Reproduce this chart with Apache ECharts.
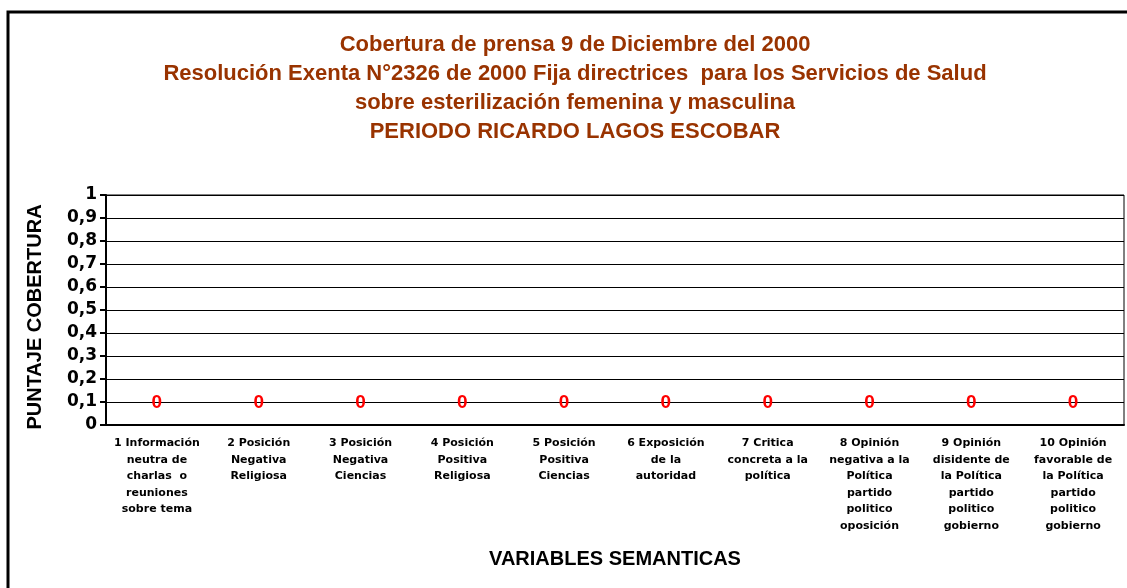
<!DOCTYPE html>
<html>
<head>
<meta charset="utf-8">
<script src="https://cdn.jsdelivr.net/npm/echarts@6/dist/echarts.min.js"></script>
<style>
  html, body {margin: 0; padding: 0; background: #fff;}
  #chart {width: 1127px; height: 588px;}
</style>
</head>
<body>
<div id="chart"></div>
<script>
// categorias del eje X
const categorias = [
    '1 Información\nneutra de\ncharlas  o\nreuniones\nsobre tema',
    '2 Posición\nNegativa\nReligiosa',
    '3 Posición\nNegativa\nCiencias',
    '4 Posición\nPositiva\nReligiosa',
    '5 Posición\nPositiva\nCiencias',
    '6 Exposición\nde la\nautoridad',
    '7 Critica\nconcreta a la\npolítica',
    '8 Opinión\nnegativa a la\nPolítica\npartido\npolitico\noposición',
    '9 Opinión\ndisidente de\nla Política\npartido\npolitico\ngobierno',
    '10 Opinión\nfavorable de\nla Política\npartido\npolitico\ngobierno'
]
// puntaje por variable
const puntaje = [0, 0, 0, 0, 0, 0, 0, 0, 0, 0]
const yMin = 0, yMax = 1, yPaso = 0.1

const titulo = 'Cobertura de prensa 9 de Diciembre del 2000\n' +
    'Resolución Exenta N°2326 de 2000 Fija directrices  para los Servicios de Salud\n' +
    'sobre esterilización femenina y masculina\n' +
    'PERIODO RICARDO LAGOS ESCOBAR'

const fuente = '"Liberation Sans", Arial, sans-serif'
const fuenteAncha = '"DejaVu Sans", sans-serif'

const option = {
    animation: false,
    textStyle: {fontFamily: fuente},
    graphic: [
        {
            type: 'rect',
            shape: {x: 8, y: 12, width: 1300, height: 700},
            style: {fill: 'none', stroke: '#000', lineWidth: 3},
            silent: true
        },
        {
            type: 'text',
            x: 575, y: 30,
            style: {
                text: titulo,
                align: 'center',
                font: 'bold 22px ' + fuente,
                lineHeight: 29,
                fill: '#993300'
            }
        }
    ],
    grid: {left: 106, right: 3, top: 195, bottom: 163, show: true, borderColor: '#000', borderWidth: 1},
    xAxis: {
        type: 'category',
        data: categorias,
        name: 'VARIABLES SEMANTICAS',
        nameLocation: 'middle',
        nameGap: 124,
        nameTextStyle: {fontSize: 20, fontWeight: 'bold', fontFamily: fuente, color: '#000'},
        axisLine: {lineStyle: {color: '#000', width: 2}},
        axisTick: {length: 5, lineStyle: {color: '#000', width: 2}},
        axisLabel: {interval: 0, margin: 10, fontSize: 11, fontWeight: 'bold', fontFamily: fuenteAncha, color: '#000', lineHeight: 16.5}
    },
    yAxis: {
        type: 'value',
        min: yMin, max: yMax, interval: yPaso,
        name: 'PUNTAJE COBERTURA',
        nameLocation: 'middle',
        nameRotate: 90,
        nameGap: 61,
        nameTextStyle: {fontSize: 20, fontWeight: 'bold', fontFamily: fuente, color: '#000', padding: [0, 14, 0, 0]},
        axisLine: {show: true, lineStyle: {color: '#000', width: 2}},
        axisTick: {show: true, length: 6, lineStyle: {color: '#000', width: 2}},
        axisLabel: {
            margin: 9, fontSize: 17, fontWeight: 'bold', fontFamily: fuenteAncha, color: '#000',
            formatter: v => String(Math.round(v * 10) / 10).replace('.', ',')
        },
        splitLine: {lineStyle: {color: '#000', width: 1}}
    },
    series: [{
        type: 'bar',
        data: puntaje,
        barWidth: '40%',
        itemStyle: {color: '#000'},
        label: {
            show: true,
            position: 'top',
            distance: 13,
            fontSize: 19,
            fontWeight: 'bold',
            fontFamily: fuente,
            color: '#ff0000'
        }
    }]
}

const myChart = echarts.init(document.getElementById('chart'))
myChart.setOption(option)
</script>
</body>
</html>
